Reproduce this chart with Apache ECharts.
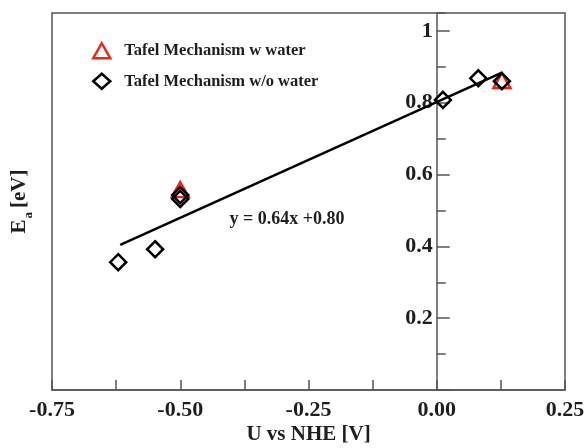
<!DOCTYPE html>
<html><head><meta charset="utf-8">
<script src="https://cdn.jsdelivr.net/npm/echarts@6/dist/echarts.min.js"></script>
<style>html,body{margin:0;padding:0;background:#fff}#c{width:586px;height:448px}</style>
</head><body><div id="c"></div>
<script>
// ---- data ----
const seriesNames = ['Tafel Mechanism w water', 'Tafel Mechanism w/o water'];
const xWithWater = [-0.50, 0.127];
const yWithWater = [0.558, 0.862];
const xWithoutWater = [-0.621, -0.549, -0.50, -0.50, 0.012, 0.081, 0.127];
const yWithoutWater = [0.356, 0.392, 0.543, 0.532, 0.808, 0.868, 0.860];
const fitX = [-0.617, 0.127];
const fitY = [0.404, 0.884];
const xTickLabels = [-0.75, -0.50, -0.25, 0.00, 0.25];
const yTickLabels = [0.2, 0.4, 0.6, 0.8, 1];
const xTitle = 'U vs NHE [V]';
const fitLabel = 'y = 0.64x +0.80';
const fitLabelAt = [-0.292, 0.476];

// ---- styling ----
const FONT = '"Liberation Serif", "Times New Roman", serif';
const AXC = '#555';
const TXT = '#1e1e1e';
const RED = '#e8261c';

const X_MIN = -0.75, X_MAX = 0.25, Y_MIN = 0, Y_MAX = 1.05;
const G_LEFT = 52, G_WIDTH = 513;
const yAxisOffset = -((0 - X_MIN) / (X_MAX - X_MIN)) * G_WIDTH;

const pairs = (xs, ys) => xs.map((x, i) => [x, ys[i]]);
const near = (v, arr) => arr.some(t => Math.abs(t - v) < 1e-6);

const chart = echarts.init(document.getElementById('c'), null, {renderer: 'canvas'});
chart.setOption({
  animation: false,
  backgroundColor: '#fff',
  grid: {left: G_LEFT, width: G_WIDTH, top: 13, height: 377, show: true,
         borderColor: AXC, borderWidth: 1.5, backgroundColor: 'transparent',
         containLabel: false, outerBoundsMode: 'none'},
  legend: {
    orient: 'vertical', left: 92, top: 42, padding: 0,
    itemWidth: 17, itemHeight: 15, itemGap: 13,
    selectedMode: false,
    textStyle: {fontFamily: FONT, fontWeight: 'bold', fontSize: 16.5, color: TXT, padding: [0, 0, 0, 9]},
    data: [
      {name: seriesNames[0], icon: 'triangle', itemStyle: {color: 'transparent', borderColor: RED, borderWidth: 2.5, opacity: 1}},
      {name: seriesNames[1], icon: 'diamond', itemStyle: {color: 'transparent', borderColor: '#000', borderWidth: 2.5, opacity: 1}}
    ]
  },
  xAxis: {
    type: 'value', min: X_MIN, max: X_MAX, interval: 0.25,
    axisLine: {show: true, onZero: false, lineStyle: {color: AXC, width: 1.5}},
    axisTick: {show: true, inside: true, length: 10, lineStyle: {color: AXC, width: 1.5}},
    minorTick: {show: true, splitNumber: 2, length: 10, lineStyle: {color: AXC, width: 1.5}},
    splitLine: {show: false}, minorSplitLine: {show: false},
    axisLabel: {
      margin: 9, fontFamily: FONT, fontWeight: 'bold', fontSize: 22, color: TXT,
      formatter: v => near(v, xTickLabels) ? v.toFixed(2) : ''
    },
    name: xTitle, nameLocation: 'middle', nameGap: 34, nameMoveOverlap: false,
    nameTextStyle: {fontFamily: FONT, fontWeight: 'bold', fontSize: 21, color: TXT}
  },
  yAxis: [{
    type: 'value', min: Y_MIN, max: Y_MAX, interval: 0.2, position: 'left', offset: yAxisOffset,
    axisLine: {show: true, onZero: false, lineStyle: {color: AXC, width: 1.5}},
    axisTick: {show: true, inside: true, length: 13, lineStyle: {color: AXC, width: 1.5}},
    splitLine: {show: false},
    axisLabel: {
      margin: 4, fontFamily: FONT, fontWeight: 'bold', fontSize: 22, color: TXT,
      showMaxLabel: false,
      formatter: v => near(v, yTickLabels) ? (Math.abs(v - 1) < 1e-6 ? '1' : v.toFixed(1)) : ''
    },
    name: '{e|E}{s|a}{e|[eV]}', nameLocation: 'middle', nameGap: 402, nameMoveOverlap: false,
    nameTextStyle: {
      fontFamily: FONT, fontWeight: 'bold', fontSize: 21, color: TXT,
      rich: {
        e: {fontFamily: FONT, fontWeight: 'bold', fontSize: 21, color: TXT, verticalAlign: 'bottom', padding: [0, 0, 5, 0]},
        s: {fontFamily: FONT, fontWeight: 'bold', fontSize: 13, color: TXT, verticalAlign: 'bottom', lineHeight: 13, padding: [14, 4, 0, 1]}
      }
    }
  }, {
    type: 'value', min: Y_MIN, max: Y_MAX, interval: 0.1, position: 'left', offset: yAxisOffset,
    axisLine: {show: false, onZero: false},
    axisTick: {show: true, inside: true, length: 9, lineStyle: {color: AXC, width: 1.5}},
    splitLine: {show: false},
    axisLabel: {show: false}
  }],
  series: [
    {
      name: 'fit', type: 'line', data: pairs(fitX, fitY), symbol: 'none', silent: true,
      lineStyle: {color: '#000', width: 2.5, opacity: 1}, z: 2
    },
    {
      name: seriesNames[0], type: 'scatter', data: pairs(xWithWater, yWithWater),
      symbol: 'triangle', symbolSize: [17, 15], z: 3,
      itemStyle: {color: 'transparent', borderColor: RED, borderWidth: 2.5, opacity: 1}
    },
    {
      name: seriesNames[1], type: 'scatter', data: pairs(xWithoutWater, yWithoutWater),
      symbol: 'diamond', symbolSize: 16, z: 4,
      itemStyle: {color: 'transparent', borderColor: '#000', borderWidth: 2.5, opacity: 1}
    },
    {
      name: 'fitLabel', type: 'scatter', data: [fitLabelAt], symbolSize: 0, silent: true, z: 5,
      itemStyle: {opacity: 1},
      label: {show: true, position: 'inside', formatter: fitLabel,
              fontFamily: FONT, fontWeight: 'bold', fontSize: 18, color: TXT}
    }
  ]
});
</script>
</body></html>
